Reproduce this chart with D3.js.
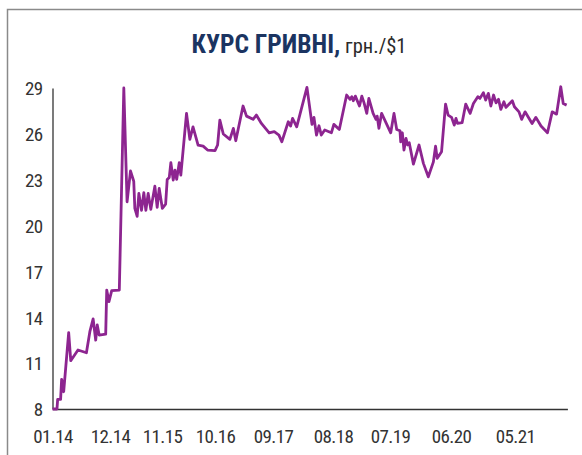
<!DOCTYPE html>
<html>
<head>
<meta charset="utf-8">
<script src="https://cdn.jsdelivr.net/npm/d3@7"></script>
<style>
  body { margin: 0; background: #fff; }
  svg text { font-family: "Liberation Sans Narrow", "Roboto Condensed", "Roboto", sans-serif; }
</style>
</head>
<body>
<div id="chart"></div>
<script>
// UAH per USD
const dates = [
  "2014-01-01", "2014-01-27", "2014-01-31", "2014-02-17", "2014-02-23", "2014-03-07", "2014-04-05", "2014-04-17",
  "2014-05-29", "2014-07-17", "2014-08-06", "2014-08-25", "2014-09-09", "2014-09-18", "2014-09-29", "2014-11-06",
  "2014-11-12", "2014-11-25", "2014-12-12", "2015-01-30", "2015-02-28", "2015-03-21", "2015-04-12", "2015-05-03",
  "2015-05-10", "2015-05-25", "2015-06-05", "2015-06-22", "2015-07-07", "2015-07-20", "2015-08-04", "2015-08-21",
  "2015-09-16", "2015-10-01", "2015-10-14", "2015-11-03", "2015-11-24", "2015-12-04", "2015-12-17", "2015-12-27",
  "2016-01-11", "2016-01-22", "2016-02-02", "2016-02-18", "2016-02-28", "2016-04-04", "2016-04-25", "2016-05-15",
  "2016-06-16", "2016-07-18", "2016-08-15", "2016-10-01", "2016-10-16", "2016-10-29", "2016-11-18", "2016-12-26",
  "2017-01-15", "2017-01-29", "2017-03-12", "2017-04-01", "2017-05-09", "2017-05-28", "2017-06-26", "2017-08-10",
  "2017-09-08", "2017-10-04", "2017-10-20", "2017-11-25", "2017-12-08", "2017-12-19", "2018-01-11", "2018-03-09",
  "2018-04-06", "2018-04-17", "2018-05-01", "2018-05-15", "2018-05-28", "2018-06-16", "2018-07-23", "2018-08-06",
  "2018-09-07", "2018-10-20", "2018-11-09", "2018-11-19", "2018-11-28", "2018-12-10", "2019-01-03", "2019-01-17",
  "2019-01-30", "2019-02-15", "2019-02-27", "2019-03-24", "2019-04-10", "2019-04-17", "2019-04-27", "2019-05-13",
  "2019-07-05", "2019-07-23", "2019-08-07", "2019-08-25", "2019-08-29", "2019-09-07", "2019-09-16", "2019-09-27",
  "2019-10-06", "2019-10-15", "2019-11-07", "2019-12-08", "2020-01-01", "2020-01-28", "2020-02-25", "2020-03-08",
  "2020-03-17", "2020-04-10", "2020-05-02", "2020-05-16", "2020-06-04", "2020-06-18", "2020-06-27", "2020-07-05",
  "2020-07-29", "2020-08-17", "2020-09-09", "2020-09-26", "2020-10-19", "2020-10-30", "2020-11-17", "2020-11-29",
  "2020-12-13", "2020-12-26", "2021-01-09", "2021-01-22", "2021-02-04", "2021-02-16", "2021-03-04", "2021-03-15",
  "2021-04-17", "2021-04-28", "2021-05-22", "2021-06-05", "2021-06-23", "2021-07-30", "2021-08-19", "2021-09-15",
  "2021-10-19", "2021-11-13", "2021-12-06", "2021-12-28", "2022-01-10", "2022-01-28"
];
const rates = [
  8.00, 8.00, 8.63, 8.63, 9.94, 9.13, 12.99, 11.16,
  11.86, 11.68, 13.06, 13.89, 12.50, 13.50, 12.84, 12.90,
  15.78, 15.02, 15.74, 15.78, 29.00, 21.56, 23.57, 22.90,
  21.13, 20.60, 22.10, 21.00, 22.15, 21.00, 22.10, 21.06,
  22.58, 21.19, 22.43, 21.13, 21.41, 23.02, 23.15, 24.11,
  22.98, 23.63, 23.02, 24.11, 23.30, 27.34, 25.64, 26.46,
  25.27, 25.20, 24.94, 24.90, 25.27, 26.90, 25.99, 25.64,
  26.36, 25.55, 27.82, 27.16, 26.95, 27.23, 26.68, 26.07,
  26.14, 25.92, 25.48, 26.79, 26.51, 27.01, 26.46, 29.04,
  26.62, 27.08, 25.92, 26.53, 25.92, 26.25, 26.07, 26.62,
  26.29, 28.54, 28.26, 28.43, 28.17, 28.47, 27.82, 28.47,
  28.03, 27.34, 28.32, 27.34, 26.95, 27.16, 26.36, 27.34,
  26.07, 27.34, 26.29, 26.20, 25.48, 26.07, 24.94, 25.70,
  25.27, 25.42, 24.02, 25.27, 24.07, 23.19, 24.17, 25.20,
  24.40, 24.83, 27.95, 27.23, 27.08, 26.57, 27.01, 26.68,
  26.73, 27.95, 27.34, 27.99, 28.43, 28.32, 28.69, 28.21,
  28.65, 27.82, 28.54, 28.03, 28.26, 27.60, 28.10, 27.73,
  28.17, 27.77, 27.44, 26.95, 27.44, 26.68, 27.08, 26.51,
  26.07, 27.44, 27.29, 29.08, 27.99, 27.88
];

const tickDates = ["2014-01-01", "2014-12-01", "2015-11-01", "2016-10-01", "2017-09-01",
                   "2018-08-01", "2019-07-01", "2020-06-01", "2021-05-01"];
const tickLabels = ["01.14", "12.14", "11.15", "10.16", "09.17", "08.18", "07.19", "06.20", "05.21"];
const endDate = "2022-02-01";
const yTicks = [8, 11, 14, 17, 20, 23, 26, 29];

const W = 582, H = 455;
const margin = { top: 88, right: 16, bottom: 46, left: 52.5 },
    height = H - margin.top - margin.bottom;

// label spacing on the original axis is uneven, so the time scale is piecewise
const xStops = [0, 57.5, 109.5, 162.5, 220.5, 280.5, 337.5, 398.5, 462.5, 514.9];

const parse = d3.timeParse("%Y-%m-%d");
const data = dates.map((d, i) => ({ date: parse(d), rate: rates[i] }));

const svg = d3.select("#chart")
    .append("svg")
    .attr("width", W)
    .attr("height", H);

// frame
svg.append("rect")
    .attr("x", 7.5)
    .attr("y", 9.5)
    .attr("width", W + 20)
    .attr("height", H + 20)
    .attr("fill", "none")
    .attr("stroke", "#8a8a8a")
    .attr("stroke-width", 1.5);

// title
const title = svg.append("text")
    .attr("x", 299)
    .attr("y", 53)
    .attr("text-anchor", "middle");
title.append("tspan")
    .attr("font-weight", "bold")
    .attr("font-size", 25.5)
    .attr("fill", "#1b3461")
    .text("КУРС ГРИВНІ,");
title.append("tspan")
    .attr("font-size", 20.5)
    .attr("fill", "#2b2b2b")
    .text(" грн./$1");

const g = svg.append("g")
    .attr("transform", `translate(${margin.left},${margin.top})`);

const x = d3.scaleTime()
    .domain(tickDates.concat(endDate).map(parse))
    .range(xStops);

const y = d3.scaleLinear().domain([8, 29]).range([height, 0]);

const xAxis = g.append("g")
    .attr("transform", `translate(0, ${height})`)
    .call(d3.axisBottom(x)
        .tickValues(tickDates.map(parse))
        .tickFormat((d, i) => tickLabels[i])
        .tickSize(0)
        .tickPadding(21));

const yAxis = g.append("g")
    .call(d3.axisLeft(y)
        .tickValues(yTicks)
        .tickSize(0)
        .tickPadding(10));

[xAxis, yAxis].forEach(a => {
    a.select(".domain").attr("stroke", "#333").attr("stroke-width", 1.3);
    a.selectAll("text")
        .attr("font-size", 19)
        .attr("fill", "#333")
        .style("letter-spacing", "-0.6px");
});
yAxis.selectAll("text").attr("dy", "0.36em");

const line = d3.line()
    .x(d => x(d.date))
    .y(d => y(d.rate));

g.append("path")
    .datum(data)
    .attr("fill", "none")
    .attr("stroke", "#8d2590")
    .attr("stroke-width", 2.8)
    .attr("stroke-linejoin", "round")
    .attr("d", line);
</script>
</body>
</html>
